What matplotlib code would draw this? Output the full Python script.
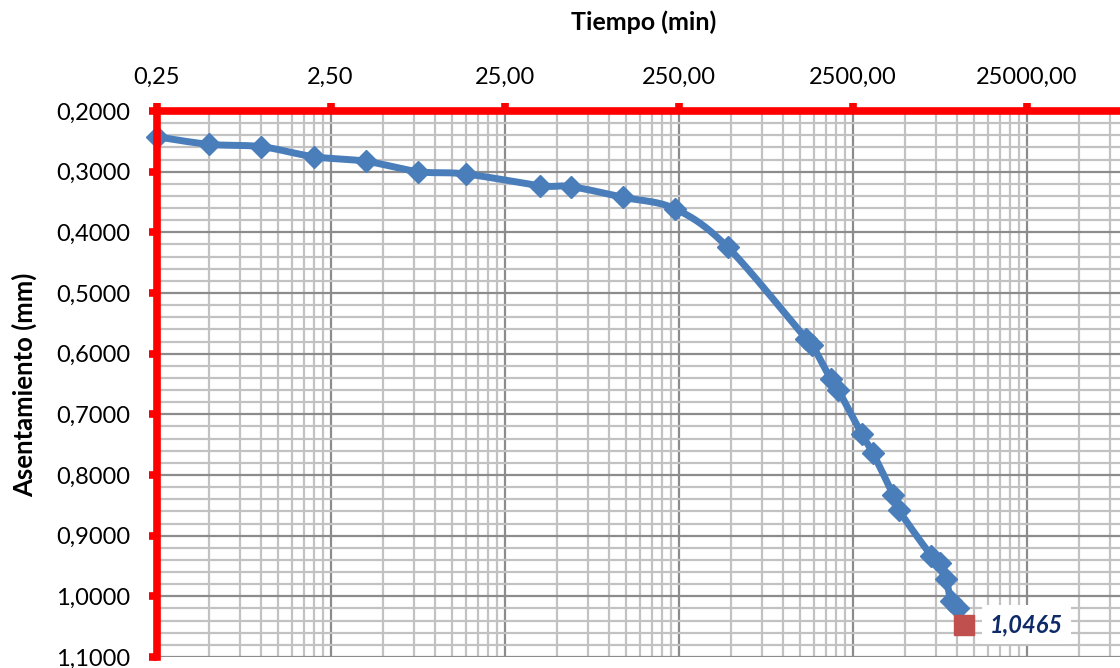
import numpy as np
import matplotlib
matplotlib.use("Agg")
import matplotlib.pyplot as plt
from matplotlib.ticker import FixedLocator, FuncFormatter, MultipleLocator, NullFormatter

# Consolidation reading: elapsed time (min) vs. settlement (mm)
tiempo_min = [0.25, 0.5, 1, 2, 4, 8, 15, 40, 60, 120, 240, 480,
              1360, 1470, 1870, 2070, 2820, 3280, 4280, 4610,
              7110, 7940, 8670, 9180, 10110, 10950]
asentamiento_mm = [0.2424, 0.2549, 0.2588, 0.2753, 0.2829, 0.3000, 0.3038,
                   0.3231, 0.3246, 0.3422, 0.3615, 0.4247,
                   0.5763, 0.5857, 0.6417, 0.6599, 0.7324, 0.7643, 0.8329, 0.8577,
                   0.9335, 0.9456, 0.9719, 1.0072, 1.0197, 1.0465]

x_major_ticks = [0.25, 2.5, 25, 250, 2500, 25000]
y_major_ticks = [0.2, 0.3, 0.4, 0.5, 0.6, 0.7, 0.8, 0.9, 1.0, 1.1]

plt.rcParams['font.family'] = ['Lato', 'DejaVu Sans']

W, H = 1120, 668
fig = plt.figure(figsize=(W / 100, H / 100), dpi=100)
left_px, top_px, bottom_px = 156.5, 111.0, 657.0
ax = fig.add_axes([left_px / W, 1 - bottom_px / H, 1 - left_px / W, (bottom_px - top_px) / H])

decade_px = 174.0
ax.set_xscale('log')
ax.set_xlim(0.25, 0.25 * 10 ** ((W - left_px) / decade_px))
ax.set_ylim(1.1, 0.2)

# log grid anchored on 0.25 * 10^n
x_minor = [0.25 * k * 10 ** n for n in range(0, 7) for k in range(2, 10)]
ax.xaxis.set_major_locator(FixedLocator(x_major_ticks))
ax.xaxis.set_minor_locator(FixedLocator(x_minor))
ax.xaxis.set_major_formatter(FuncFormatter(lambda v, p: f"{v:.2f}".replace('.', ',')))
ax.xaxis.set_minor_formatter(NullFormatter())
ax.yaxis.set_major_locator(FixedLocator(y_major_ticks))
ax.yaxis.set_minor_locator(MultipleLocator(0.02))
ax.yaxis.set_major_formatter(FuncFormatter(lambda v, p: f"{v:.4f}".replace('.', ',')))

ax.xaxis.set_ticks_position('top')
ax.tick_params(axis='x', which='major', top=True, bottom=False, labeltop=True,
               labelbottom=False, direction='out', length=6, width=5.5,
               color='#ff0000', pad=11, labelsize=17, labelcolor='black')
ax.tick_params(axis='y', which='major', left=True, right=False, direction='out',
               length=6, width=5.5, color='#ff0000', pad=13, labelsize=17,
               labelcolor='black')
ax.tick_params(which='minor', length=0)

ax.set_axisbelow(True)
ax.grid(which='major', color='#8c8c8c', linewidth=1.6)
ax.grid(which='minor', color='#c2c2c2', linewidth=1.6)

for side in ('right', 'bottom'):
    ax.spines[side].set_visible(False)
for side in ('top', 'left'):
    ax.spines[side].set_color('#ff0000')
    ax.spines[side].set_linewidth(5.5)
    ax.spines[side].set_zorder(5)


def smooth_curve(axis, xs, ys, n=40):
    """Bezier smoothing through the points, computed in display space."""
    pts = axis.transData.transform(np.column_stack([xs, ys]))
    P = np.vstack([pts[0], pts, pts[-1]])
    pieces = []
    last = len(P) - 3
    for i in range(1, len(P) - 2):
        p0, p1, p2, p3 = P[i - 1], P[i], P[i + 1], P[i + 2]
        c1 = p1 + (p2 - p0) / 6.0
        c2 = p2 - (p3 - p1) / 6.0
        t = np.linspace(0, 1, n, endpoint=(i == last))[:, None]
        pieces.append((1 - t) ** 3 * p1 + 3 * (1 - t) ** 2 * t * c1
                      + 3 * (1 - t) * t ** 2 * c2 + t ** 3 * p2)
    curve = axis.transData.inverted().transform(np.vstack(pieces))
    return curve[:, 0], curve[:, 1]


blue = '#4a7ebb'
cx, cy = smooth_curve(ax, tiempo_min, asentamiento_mm)
ax.plot(cx, cy, color=blue, linewidth=5, solid_capstyle='round', zorder=3, clip_on=False)
ax.plot(tiempo_min[:-1], asentamiento_mm[:-1], linestyle='none', marker='D',
        markersize=11.5, color=blue, markeredgecolor=blue, zorder=4, clip_on=False)
ax.plot(tiempo_min[-1:], asentamiento_mm[-1:], linestyle='none', marker='s',
        markersize=15, color='#c0504d', markeredgecolor='#c0504d', zorder=4)

ax.annotate(f"{asentamiento_mm[-1]:.4f}".replace('.', ','),
            xy=(tiempo_min[-1], asentamiento_mm[-1]), xytext=(45, 0),
            textcoords='offset points', ha='center', va='center',
            fontsize=17, fontweight='bold', fontstyle='italic', color='#0e2a68',
            bbox=dict(boxstyle='square,pad=0.35', fc='white', ec='none'), zorder=6)

fig.text(644 / W, 1 - 22 / H, 'Tiempo (min)', ha='center', va='center',
         fontsize=18, fontweight='bold')
fig.text(24 / W, 1 - 385 / H, 'Asentamiento (mm)', ha='center', va='center',
         rotation=90, fontsize=18.5, fontweight='bold')

fig.savefig('out.png', dpi=100)
